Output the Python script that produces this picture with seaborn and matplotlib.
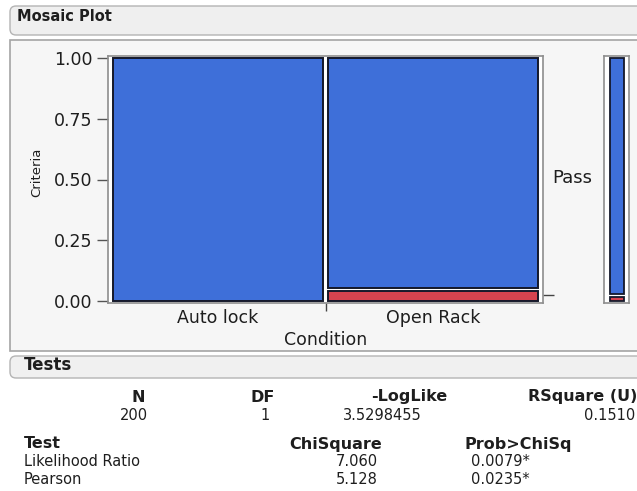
import matplotlib
matplotlib.use("Agg")
import matplotlib.pyplot as plt
from matplotlib.patches import FancyBboxPatch, Rectangle
import pandas as pd
import seaborn as sns

# ---- data -------------------------------------------------------------
conditions = ["Auto lock", "Open Rack"]
pass_counts = [100, 95]
fail_counts = [0, 5]
criteria_levels = ["Fail", "Pass"]
y_ticks = [0.0, 0.25, 0.50, 0.75, 1.0]
y_tick_labels = ["0.00", "0.25", "0.50", "0.75", "1.00"]

summary_headers = ["N", "DF", "-LogLike", "RSquare (U)"]
summary_values = ["200", "1", "3.5298455", "0.1510"]
test_headers = ["Test", "ChiSquare", "Prob>ChiSq"]
test_names = ["Likelihood Ratio", "Pearson"]
chi_square = ["7.060", "5.128"]
prob_chisq = ["0.0079*", "0.0235*"]

# ---- style ------------------------------------------------------------
sns.set_theme(style="white")
plt.rcParams["font.family"] = ["DejaVu Sans"]
TEXT = "#1e1e1e"
BLUE = "#3e6fd9"
RED = "#d6434f"
EDGE = "#14182a"
FRAME = "#8e8e8e"

W, H = 637, 491
fig = plt.figure(figsize=(W / 100, H / 100), dpi=100)
fig.patch.set_facecolor("white")

# background layer in pixel coordinates for boxes and the stats table
bg = fig.add_axes([0, 0, 1, 1], zorder=-5)
bg.set_xlim(0, W)
bg.set_ylim(H, 0)
bg.axis("off")

bg.add_patch(FancyBboxPatch((10, 6), 660, 29, boxstyle="round,pad=0,rounding_size=6",
                            facecolor="#efefef", edgecolor="#b4b4b4", lw=1.0))
bg.text(17, 16, "Mosaic Plot", fontsize=10.5, fontweight="bold", color=TEXT,
        ha="left", va="center")
bg.add_patch(Rectangle((10, 40), 660, 311, facecolor="#f6f6f6", edgecolor="#a4a4a4", lw=1.2))
bg.add_patch(FancyBboxPatch((10, 356), 660, 22, boxstyle="round,pad=0,rounding_size=6",
                            facecolor="#f0f0f0", edgecolor="#b4b4b4", lw=1.0))
bg.text(24, 365, "Tests", fontsize=12, fontweight="bold", color=TEXT,
        ha="left", va="center")


def fx(px):
    return px / W


def fy(py):
    return 1 - py / H


# ---- mosaic -----------------------------------------------------------
df = pd.DataFrame({"Condition": conditions, "Pass": pass_counts, "Fail": fail_counts})
df["n"] = df["Pass"] + df["Fail"]
df["fail_share"] = df["Fail"] / df["n"]
total = df["n"].sum()

ax = fig.add_axes([fx(108), fy(303), (543 - 108) / W, (303 - 56) / H])
ax.set_facecolor("white")
ylo, yhi = -2 / 243, 1 + 2 / 243
ax.set_ylim(ylo, yhi)
ax.set_xlim(0, 1)

margin, gap = 0.0115, 0.012
gap_lo, gap_hi = 0.008, 0.004   # white gap between stacked cells
usable = 1 - 2 * margin - gap * (len(df) - 1)
lefts, centers = [], []
x = margin
for _, row in df.iterrows():
    w = usable * row["n"] / total
    p = row["fail_share"]
    if row["Fail"] > 0:
        ax.bar(x, p - gap_lo, width=w, bottom=0, align="edge", color=RED,
               edgecolor=EDGE, linewidth=1.4)
        ax.bar(x, 1 - p - gap_hi, width=w, bottom=p + gap_hi, align="edge", color=BLUE,
               edgecolor=EDGE, linewidth=1.4)
    else:
        ax.bar(x, 1, width=w, bottom=0, align="edge", color=BLUE,
               edgecolor=EDGE, linewidth=1.4)
    lefts.append(x)
    centers.append(x + w / 2)
    x += w + gap
boundaries = [lefts[i] - gap / 2 for i in range(1, len(lefts))]

for s in ax.spines.values():
    s.set_color(FRAME)
    s.set_linewidth(1.2)

ax.set_yticks(y_ticks, y_tick_labels)
ax.tick_params(axis="y", which="major", length=8, width=1, color="#555555",
               labelsize=12.5, labelcolor=TEXT, pad=3, left=True)
ax.set_xticks(centers, conditions)
ax.set_xticks(boundaries, minor=True)
ax.tick_params(axis="x", which="major", length=0, labelsize=12.5, labelcolor=TEXT, pad=4)
ax.tick_params(axis="x", which="minor", length=6, width=1, color="#444444", bottom=True)
ax.set_xlabel("Condition", fontsize=12.5, color=TEXT, labelpad=3)
ax.set_ylabel("Criteria", fontsize=9.5, color=TEXT)
ax.yaxis.set_label_coords(-0.148, 0.53)

# level labels on the right, placed at the last column's cell midpoints
last_p = df["fail_share"].iloc[-1]
sec = ax.secondary_yaxis("right")
sec.set_yticks([(last_p + 1) / 2 - 0.012], [criteria_levels[1]])
sec.set_yticks([last_p / 2], minor=True)
sec.tick_params(which="major", length=0, labelsize=13, labelcolor=TEXT, pad=7)
sec.tick_params(which="minor", length=8, width=1, color="#444444")
sec.spines["right"].set_visible(False)

# marginal distribution of the response
axm = fig.add_axes([fx(604), fy(303), 25 / W, (303 - 56) / H])
axm.set_facecolor("white")
axm.set_ylim(ylo, yhi)
axm.set_xlim(0, 1)
tot_fail = df["Fail"].sum() / total
axm.bar(0.24, tot_fail - gap_lo, width=0.56, bottom=0, align="edge", color=RED,
        edgecolor=EDGE, linewidth=1.3)
axm.bar(0.24, 1 - tot_fail - gap_hi, width=0.56, bottom=tot_fail + gap_hi, align="edge",
        color=BLUE, edgecolor=EDGE, linewidth=1.3)
axm.set_xticks([])
axm.set_yticks([])
for s in axm.spines.values():
    s.set_color(FRAME)
    s.set_linewidth(1.2)

# ---- tests table ------------------------------------------------------
hdr_kw = dict(fontsize=11.5, fontweight="bold", color=TEXT, va="center")
val_kw = dict(fontsize=10.5, color=TEXT, va="center")

sum_hdr_x = [(138, "center"), (263, "center"), (447, "right"), (637, "right")]
sum_val_x = [(148, "right"), (270, "right"), (422, "right"), (635, "right")]
for (xx, ha), t in zip(sum_hdr_x, summary_headers):
    bg.text(xx, 397, t, ha=ha, **hdr_kw)
for (xx, ha), t in zip(sum_val_x, summary_values):
    bg.text(xx, 415, t, ha=ha, **val_kw)

bg.text(24, 444, test_headers[0], ha="left", **hdr_kw)
bg.text(382, 444, test_headers[1], ha="right", **hdr_kw)
bg.text(572, 444, test_headers[2], ha="right", **hdr_kw)
for i, (name, c, p) in enumerate(zip(test_names, chi_square, prob_chisq)):
    yy = 462 + i * 17
    bg.text(24, yy, name, ha="left", **val_kw)
    bg.text(378, yy, c, ha="right", **val_kw)
    bg.text(530, yy, p, ha="right", **val_kw)

fig.savefig("out.png", dpi=100)
